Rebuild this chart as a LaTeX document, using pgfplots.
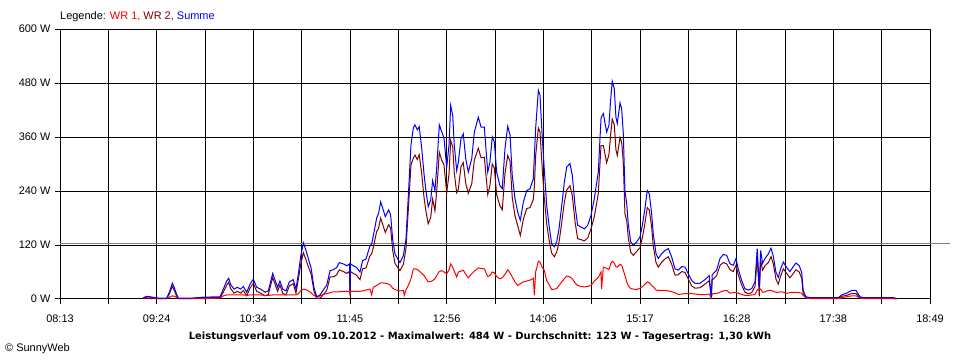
\documentclass[border=0pt]{standalone}
\usepackage{pgfplots}
\pgfplotsset{compat=1.18}
\usepackage{pgfplotstable}
\usepackage{fontspec}
\setmainfont{Liberation Sans}
\newfontfamily\titlefont{DejaVu Sans}
\definecolor{wr1}{RGB}{255,0,0}
\definecolor{wr2}{RGB}{128,0,0}
\definecolor{summe}{RGB}{0,0,255}
\definecolor{avg}{RGB}{128,128,128}

% t = minutes after 08:13
\pgfplotstableread{
t wr1 wr2 sum
60.9 2 1 3
63.4 4 2 6
65.8 4 1 5
69.4 2 1 3
71.9 1 1 2
78.0 1 1 2
79.9 4 11 15
82.1 7 28 35
83.6 6 19 25
85.3 4 6 10
86.5 1 1 2
96.3 1 1 2
104.8 1 3 4
117.0 2 3 5
119.4 7 15 22
121.9 9 31 40
123.3 9 37 46
124.8 9 23 32
127.2 9 13 22
129.6 9 17 26
132.1 9 13 22
134.0 9 19 28
136.5 8 7 15
138.9 9 24 33
141.3 9 35 44
143.8 9 17 26
146.7 9 13 22
149.9 8 7 15
152.3 8 10 18
155.5 9 48 57
157.4 9 31 40
159.1 9 17 26
160.8 9 31 40
162.8 9 13 22
165.2 9 9 18
167.6 9 29 38
170.5 9 34 43
172.5 9 13 22
174.2 12 43 55
176.0 18 77 95
177.9 22 103 125
179.6 21 89 110
181.5 18 72 90
183.5 14 56 70
185.7 8 17 25
187.7 4 1 5
190.1 7 2 9
192.5 10 10 20
195.0 12 19 31
197.4 14 49 63
199.8 16 49 65
202.3 16 54 70
204.2 16 65 81
207.1 17 61 78
209.6 17 57 74
211.6 17 61 78
212.0 10 10 20
212.3 17 61 78
214.4 17 57 74
216.8 17 53 70
219.3 17 43 60
221.2 18 67 85
223.7 20 69 89
226.6 22 96 118
227.8 9 100 122
229.0 26 114 140
231.5 30 150 180
232.9 33 157 190
234.4 36 180 216
236.3 36 162 198
237.8 35 148 183
240.3 33 165 198
241.7 30 157 187
243.2 24 108 132
244.9 21 79 100
246.9 19 70 89
248.5 18 63 81
251.0 19 77 96
251.7 8 90 110
252.9 20 112 132
254.6 30 197 227
256.6 45 298 343
258.3 67 313 380
259.5 67 320 387
261.2 66 310 376
262.6 62 321 383
264.4 57 279 336
266.1 52 226 278
267.5 46 195 241
269.2 38 167 205
271.0 39 181 220
272.4 41 222 263
274.1 45 196 241
275.4 52 240 292
277.3 61 326 387
279.0 63 309 372
280.7 60 298 358
282.7 56 236 292
284.4 65 278 343
285.6 78 352 430
287.1 70 338 408
288.2 62 281 343
290.0 49 236 285
291.2 60 244 304
293.1 62 294 356
294.8 64 303 367
296.6 55 257 312
298.5 47 235 282
301.0 56 256 312
302.9 62 309 371
305.8 69 335 404
307.8 68 314 382
310.2 67 315 382
312.7 50 232 282
314.3 52 252 304
316.0 60 300 360
317.5 58 291 349
319.2 50 232 282
321.6 45 207 252
323.3 47 198 245
325.3 55 279 334
327.3 65 319 384
329.0 58 306 364
330.6 49 226 275
332.6 38 185 223
334.6 30 163 193
336.5 34 141 175
338.7 38 177 215
341.2 40 201 241
343.6 42 203 245
346.0 46 221 267
346.8 8 250 320
347.7 60 318 378
349.7 84 380 464
350.9 82 371 453
352.6 70 286 356
354.0 64 226 290
355.8 41 167 208
357.5 32 132 164
359.4 21 102 123
361.4 22 94 116
363.1 23 104 127
364.8 30 126 156
366.8 38 170 208
368.7 45 215 260
370.4 51 242 293
372.8 49 252 301
374.5 45 230 275
376.5 36 172 208
378.4 30 134 164
380.9 28 132 160
383.3 27 129 156
385.8 28 136 164
388.2 30 156 186
390.6 40 183 223
393.5 48 234 282
395.5 60 341 401
395.9 22 341 405
397.2 71 341 412
399.6 68 303 371
401.3 65 321 386
402.6 78 367 445
403.7 84 400 484
405.2 80 387 467
406.4 72 332 404
407.4 71 319 390
409.4 77 359 436
410.6 75 348 423
411.8 64 303 367
413.0 52 189 241
414.3 38 174 212
415.4 30 137 167
417.2 23 104 127
419.1 22 97 119
421.6 21 106 127
424.0 24 114 138
425.9 28 139 167
427.6 33 168 201
429.3 38 203 241
430.8 36 198 234
432.5 30 160 190
433.7 27 118 145
435.7 20 81 101
437.4 19 71 90
439.9 19 82 101
442.3 19 89 108
444.7 18 94 112
447.2 16 77 93
449.6 14 53 67
452.0 10 54 64
454.5 11 61 72
456.9 12 59 71
459.3 12 44 56
461.8 12 29 41
464.2 11 24 35
467.8 10 25 35
471.5 10 33 43
474.6 11 41 52
476.1 2 2 4
476.8 11 43 54
477.5 12 44 56
480.0 12 52 64
482.5 15 75 90
484.9 18 81 99
487.4 19 78 97
489.8 13 65 78
492.2 14 61 75
494.2 15 75 90
495.8 13 54 67
498.3 10 31 41
500.7 8 15 23
503.2 8 12 20
505.6 9 14 23
508.1 10 28 38
509.7 20 92 112
511.2 22 6 28
512.2 22 86 108
513.6 15 64 79
515.4 16 74 90
517.8 19 81 100
519.8 19 94 113
521.4 17 79 96
523.4 15 44 59
525.1 15 33 48
526.8 16 51 67
528.8 15 67 82
531.2 13 57 70
533.6 14 47 61
535.6 15 55 70
538.0 15 65 80
540.4 14 60 74
542.2 13 46 59
543.3 8 11 19
545.3 3 2 5
548.3 1 2 3
569.0 1 2 3
571.4 3 6 9
575.1 5 8 13
578.7 7 12 19
581.9 7 12 19
584.8 2 3 5
587.2 1 2 3
609.1 1 2 3
611.6 0 1 1
}\data

\begin{document}
\begin{tikzpicture}
\begin{axis}[
  at={(60bp,61bp)}, anchor=south west,
  scale only axis, width=870bp, height=270bp,
  xmin=0, xmax=636, ymin=0, ymax=600,
  axis x line*=bottom, axis y line*=left,
  axis line style={-, black, line width=1bp},
  xtick={0,35.333,70.667,106,141.333,176.667,212,247.333,282.667,318,353.333,388.667,424,459.333,494.667,530,565.333,600.667,636},
  xticklabels={08:13,,09:24,,10:34,,11:45,,12:56,,14:06,,15:17,,16:28,,17:38,,18:49},
  ytick={0,120,240,360,480,600},
  yticklabels={0 W,120 W,240 W,360 W,480 W,600 W},
  grid=major, major grid style={black, line width=1bp},
  tick style={black, line width=1bp},
  major tick length=5bp, tick align=outside,
  ticklabel style={font=\fontsize{11}{13}\selectfont},
  xticklabel style={yshift=-7bp},
  yticklabel style={xshift=-1bp},
  clip=false,
]
\draw[avg, line width=1bp] (axis cs:0,123) -- ([xshift=20bp]axis cs:636,123);
\addplot[wr2, line width=1bp, mark=none] table[x=t, y=wr2] {\data};
\addplot[wr1, line width=1bp, mark=none] table[x=t, y=wr1] {\data};
\addplot[summe, line width=1bp, mark=none] table[x=t, y=sum] {\data};
\end{axis}
\node[anchor=base west, font=\fontsize{11}{13}\selectfont, inner sep=0pt] at (60bp,340bp)
  {Legende: \textcolor{wr1}{WR 1,} \textcolor{wr2}{WR 2,} \textcolor{summe}{Summe}};
\node[anchor=center, font=\titlefont\bfseries\fontsize{10}{12}\selectfont, inner sep=0pt] at (480bp,23bp)
  {Leistungsverlauf vom 09.10.2012 - Maximalwert: 484 W - Durchschnitt: 123 W - Tagesertrag: 1,30 kWh};
\node[anchor=west, font=\fontsize{11}{13}\selectfont, inner sep=0pt] at (5bp,11bp) {© SunnyWeb};
\pgfresetboundingbox
\path (0,0) rectangle (960bp,360bp);
\end{tikzpicture}
\end{document}
